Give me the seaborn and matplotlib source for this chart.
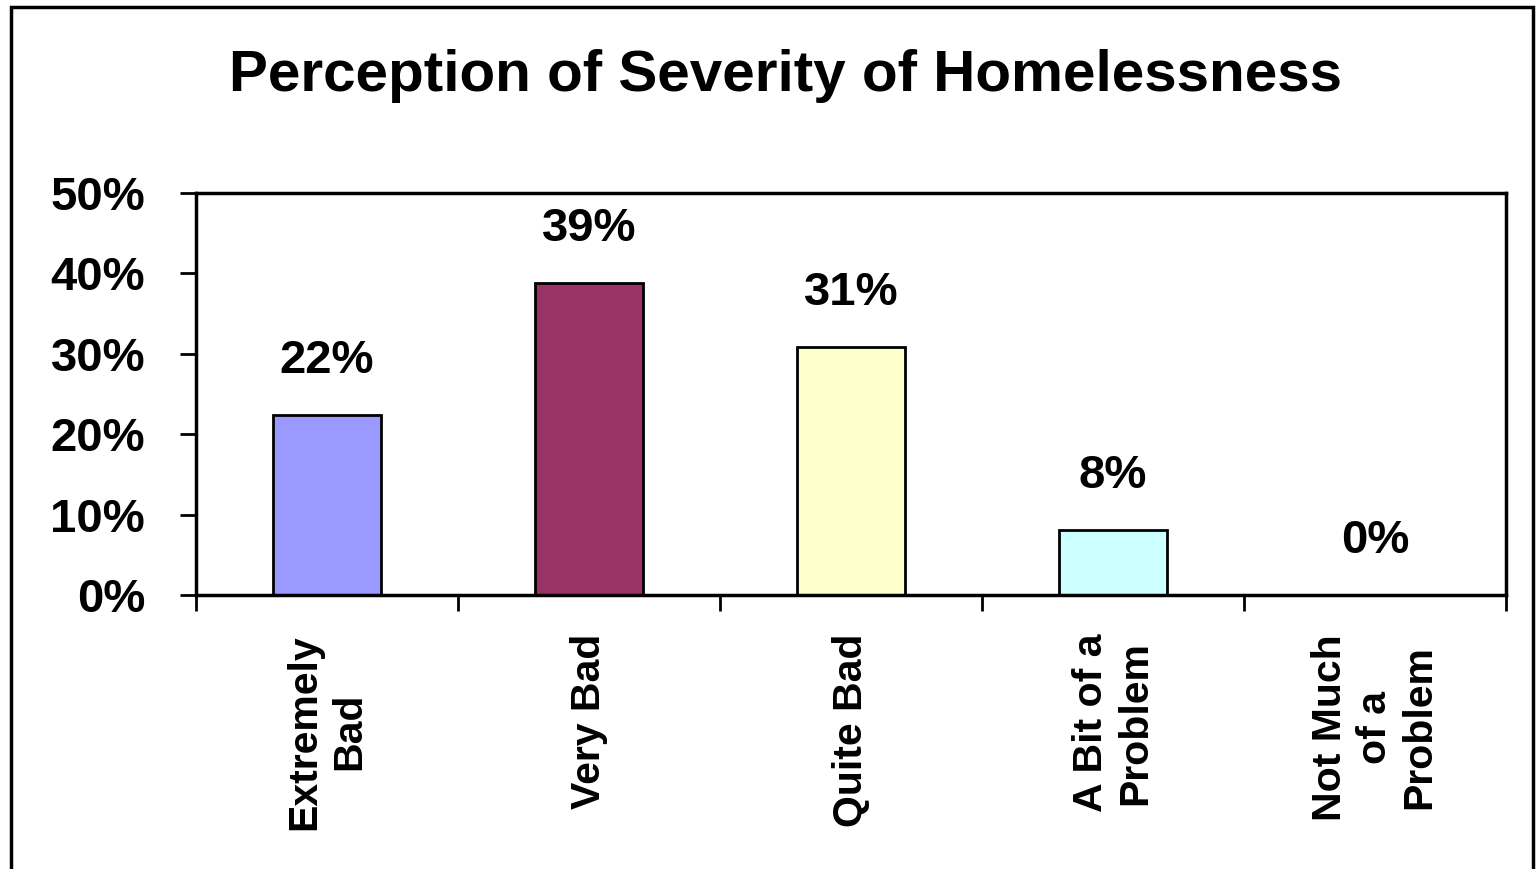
import pandas as pd
import matplotlib
matplotlib.use("Agg")
import matplotlib.pyplot as plt
import matplotlib.patches as patches
from matplotlib.ticker import FixedLocator
import seaborn as sns

# Chart data
categories = ["Extremely\nBad", "Very Bad", "Quite Bad", "A Bit of a\nProblem", "Not Much\nof a\nProblem"]
percentages = [22.4, 38.8, 30.8, 8.1, 0.0]
bar_colors = ["#9999FF", "#993366", "#FFFFCC", "#CCFFFF", "#FFFFFF"]
y_ticks = [0, 10, 20, 30, 40, 50]
y_tick_labels = ["0%", "10%", "20%", "30%", "40%", "50%"]

df = pd.DataFrame({"Category": categories, "Percent": percentages})

sns.set_style("white")
plt.rcParams["font.family"] = ["Liberation Sans", "DejaVu Sans"]
plt.rcParams["text.color"] = "black"
plt.rcParams["xtick.color"] = "black"
plt.rcParams["ytick.color"] = "black"
plt.rcParams["xtick.labelcolor"] = "black"
plt.rcParams["ytick.labelcolor"] = "black"

fig = plt.figure(figsize=(15.38, 8.69), dpi=100)
ax = fig.add_axes([0.1274, 0.3153, 0.8518, 0.4626])

sns.barplot(data=df, x="Category", y="Percent", hue="Category",
            palette=bar_colors, legend=False, width=0.41,
            edgecolor="black", linewidth=2, ax=ax, saturation=1)

# no outline for the empty bar
for patch, val in zip(ax.patches, percentages):
    if val == 0:
        patch.set_linewidth(0)

ax.set_xlim(-0.5, len(categories) - 0.5)
ax.set_ylim(0, 50)
ax.set_yticks(y_ticks)
ax.set_yticklabels(y_tick_labels, fontsize=34, fontweight="bold")
ax.tick_params(axis="y", length=11.5, width=2, direction="out", pad=25, left=True)

ax.set_xticks(range(len(categories)))
ax.set_xticklabels(categories, rotation=90, fontsize=29.5, fontweight="bold",
                   multialignment="center", linespacing=1.22)
ax.tick_params(axis="x", which="major", length=0, pad=28)
ax.xaxis.set_minor_locator(FixedLocator([i - 0.5 for i in range(len(categories) + 1)]))
ax.tick_params(axis="x", which="minor", length=11.5, width=2, direction="out", bottom=True)

for side in ["left", "bottom", "top", "right"]:
    ax.spines[side].set_visible(True)
    ax.spines[side].set_color("black")
    ax.spines[side].set_linewidth(2.5)

ax.set_xlabel("")
ax.set_ylabel("")

# value labels above bars
labels = [f"{round(v):.0f}%" for v in percentages]
for i, (v, lab) in enumerate(zip(percentages, labels)):
    ax.annotate(lab, xy=(i, v), xytext=(0, 23), textcoords="offset points",
                ha="center", va="bottom", fontsize=34, fontweight="bold")

fig.text(0.511, 0.912, "Perception of Severity of Homelessness",
         ha="center", va="center", fontsize=42, fontweight="bold")

# outer chart frame
frame = patches.Rectangle((0.00715, -0.05), 0.9895, 1.042, transform=fig.transFigure,
                          fill=False, edgecolor="black", linewidth=2.5)
fig.patches.append(frame)

fig.savefig("out.png", dpi=100)
